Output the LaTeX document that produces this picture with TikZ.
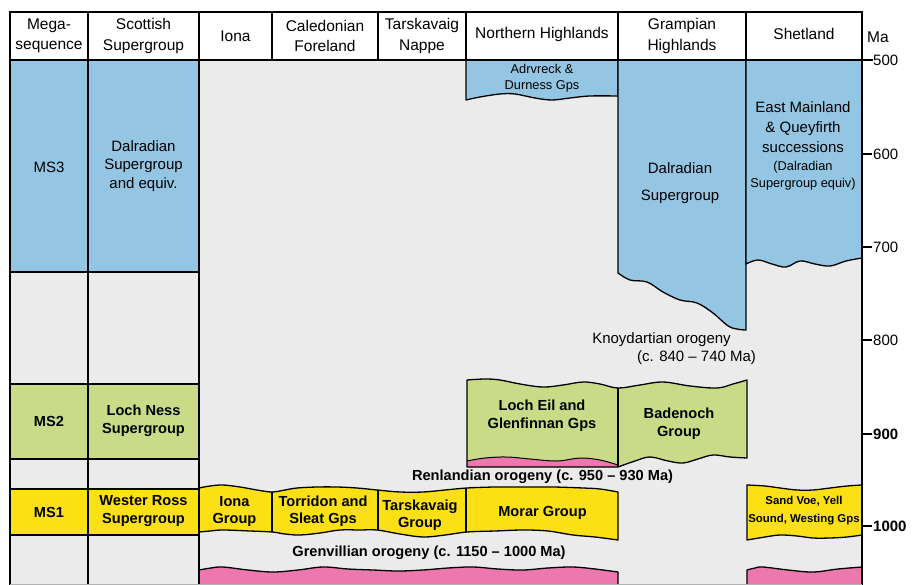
\documentclass[tikz,border=0pt]{standalone}
\usepackage{fontspec}
\setmainfont{Liberation Sans}
\definecolor{blueb}{HTML}{94C5E2}
\definecolor{greyb}{HTML}{EBEBEB}
\definecolor{greenb}{HTML}{CADB88}
\definecolor{yellowb}{HTML}{FBE016}
\definecolor{pinkb}{HTML}{EC78AD}
\begin{document}
\begin{tikzpicture}[x=1pt,y=-1pt,
  frame/.style={line width=2.4pt, draw=black, line cap=rect},
  wavy/.style={line width=1.3pt, draw=black, line join=round},
  hdr/.style={inner sep=0pt, align=center, font=\fontsize{15.5}{20.5}\selectfont},
  txt/.style={inner sep=0pt, align=center, font=\fontsize{15}{18.5}\selectfont},
  btxt/.style={inner sep=0pt, align=center, font=\fontsize{14.6}{18}\selectfont\bfseries},
  stxt/.style={inner sep=0pt, align=center, font=\fontsize{12.8}{16.5}\selectfont},
  sbtxt/.style={inner sep=0pt, align=center, font=\fontsize{11.4}{18}\selectfont\bfseries},
  tick/.style={line width=2pt, draw=black},
  ticklab/.style={inner sep=0pt, anchor=west, font=\fontsize{15}{18}\selectfont}]
\useasboundingbox (0,0) rectangle (912,585);
\fill[white] (0,0) rectangle (912,585);

% background panels
\fill[greyb] (199,60) rectangle (862,585);
\fill[blueb] (10,60) rectangle (199,272);
\fill[greyb] (10,272) rectangle (199,384);
\fill[greenb] (10,384) rectangle (199,459);
\fill[greyb] (10,459) rectangle (199,489);
\fill[yellowb] (10,489) rectangle (199,535);
\fill[greyb] (10,535) rectangle (199,585);

% MS3 blue blocks
\filldraw[wavy, fill=blueb] (466,60) -- (466,100) -- plot[smooth, tension=0.6] coordinates {(466,100) (480,97) (500,94) (515,94) (535,98) (552,100) (570,98) (590,96) (618,96)} -- (618,60);
\filldraw[wavy, fill=blueb] (618,60) -- (618,273) -- plot[smooth, tension=0.6] coordinates {(618,273) (630,280) (647,282) (663,292) (680,300) (697,303) (713,313) (730,327) (746,330)} -- (746,60);
\filldraw[wavy, fill=blueb] (746,60) -- (746,264) -- plot[smooth, tension=0.6] coordinates {(746,264) (758,260) (772,264) (786,267) (800,261) (815,264) (830,266) (846,261) (862,258)} -- (862,60);

% MS2 green blocks
\fill[greenb] (467,467) -- (467,380) -- plot[smooth, tension=0.6] coordinates {(467,380) (485,379) (500,380) (520,384) (543,387) (563,385) (583,382) (600,384) (618,388) (640,385) (663,382) (690,386) (717,388) (733,384) (747,380)} -- (747,458) -- plot[smooth, tension=0.6] coordinates {(747,458) (730,457) (713,455) (698,459) (683,463) (668,461) (650,457) (635,461) (618,467)} -- cycle;
\fill[pinkb] (467,467) -- (467,461) -- plot[smooth, tension=0.6] coordinates {(467,461) (485,458) (507,457) (530,459) (557,461) (580,458) (600,460) (618,465)} -- (618,467) -- cycle;
\draw[wavy] (467,467) -- (467,380) -- plot[smooth, tension=0.6] coordinates {(467,380) (485,379) (500,380) (520,384) (543,387) (563,385) (583,382) (600,384) (618,388) (640,385) (663,382) (690,386) (717,388) (733,384) (747,380)} -- (747,458) -- plot[smooth, tension=0.6] coordinates {(747,458) (730,457) (713,455) (698,459) (683,463) (668,461) (650,457) (635,461) (618,467)} -- cycle;
\draw[wavy, line width=1pt] plot[smooth, tension=0.6] coordinates {(467,461) (485,458) (507,457) (530,459) (557,461) (580,458) (600,460) (618,465)};
\draw[wavy] (618,388) -- (618,467);

% MS1 yellow blocks
\filldraw[wavy, fill=yellowb] (199,532) -- (199,488) -- plot[smooth, tension=0.6] coordinates {(199,488) (210,486) (223,485) (240,487) (257,490) (272,492) (285,490) (297,488) (317,487) (337,487) (357,488) (377,490) (400,492) (423,492) (445,490) (467,488) (495,487) (523,487) (553,487) (583,488) (600,489) (618,492)} -- (618,540) -- plot[smooth, tension=0.6] coordinates {(618,540) (595,537) (573,535) (548,531) (523,530) (495,531) (467,532) (445,535) (423,537) (400,534) (377,530) (360,530) (340,530) (320,533) (300,535) (285,534) (272,532) (250,531) (223,530) (210,531) (199,532)} -- cycle;
\draw[wavy] (272,492) -- (272,532);
\draw[wavy] (378,490) -- (378,530);
\draw[wavy] (466,488) -- (466,532);
\filldraw[wavy, fill=yellowb] (747,540) -- (747,485) -- plot[smooth, tension=0.6] coordinates {(747,485) (765,486) (780,488) (797,490) (813,490) (830,488) (847,486) (862,485)} -- (862,535) -- plot[smooth, tension=0.6] coordinates {(862,535) (847,537) (830,538) (813,538) (797,536) (780,535) (765,537) (747,540)} -- cycle;

% pink basement
\filldraw[wavy, fill=pinkb] (199,586) -- (199,570) -- plot[smooth, tension=0.6] coordinates {(199,570) (211,568) (223,567) (248,570) (273,572) (298,570) (323,567) (348,569) (373,570) (398,571) (423,570) (448,568) (473,567) (498,569) (523,570) (548,568) (573,567) (595,569) (618,572)} -- (618,586);
\filldraw[wavy, fill=pinkb] (747,586) -- (747,570) -- plot[smooth, tension=0.6] coordinates {(747,570) (755,568) (763,567) (788,570) (813,572) (838,569) (862,567)} -- (862,586);

% frame
\draw[frame] (10,12) -- (862,12);
\draw[frame] (10,60) -- (872,60);
\foreach \xx in {272,378,466,618,746} \draw[frame] (\xx,12) -- (\xx,60);
\foreach \xx in {10,88,199} \draw[frame] (\xx,12) -- (\xx,586);
\draw[frame] (862,12) -- (862,586);
\foreach \yy in {272,384,459,489,535} \draw[frame] (10,\yy) -- (199,\yy);
\draw[gray!60, line width=0.8pt] (10,584.6) -- (862,584.6);

% axis
\foreach \yy in {154,247,340,434,526} \draw[tick] (862,\yy) -- (872,\yy);
\node[hdr, anchor=west] (ma) at (867,37) {Ma};
\node[ticklab] (t500) at (873,60) {500};
\node[ticklab] (t600) at (873,154) {600};
\node[ticklab] (t700) at (873,247) {700};
\node[ticklab] (t800) at (873,340) {800};
\node[ticklab, font=\fontsize{15}{18}\selectfont\bfseries] (t900) at (873,434) {900};
\node[ticklab, font=\fontsize{15}{18}\selectfont\bfseries] (t1000) at (873,526) {1000};

% header
\node[hdr] (h1) at (49,36) {Mega-\\sequence};
\node[hdr] (h2) at (143.5,36) {Scottish\\Supergroup};
\node[hdr] (h3) at (235.5,36) {Iona};
\node[hdr] (h4) at (325,36) {Caledonian\\Foreland};
\node[hdr] (h5) at (422,36) {Tarskavaig\\Nappe};
\node[hdr] (h6) at (542,34) {Northern Highlands};
\node[hdr] (h7) at (682,36) {Grampian\\Highlands};
\node[hdr] (h8) at (804,34) {Shetland};

% left columns
\node[txt] (ms3) at (49,167) {MS3};
\node[txt] (dal) at (143.5,166) {Dalradian\\Supergroup\\and equiv.};
\node[btxt] (ms2) at (49,421) {MS2};
\node[btxt] (lns) at (143.5,421) {Loch Ness\\Supergroup};
\node[btxt] (ms1) at (49,512) {MS1};
\node[btxt] (wrs) at (143.5,511) {Wester Ross\\Supergroup};

% MS3 texts
\node[stxt] (adr) at (542,78) {Adrvreck \&\\Durness Gps};
\node[txt] (gdal1) at (680,168) {Dalradian};
\node[txt] (gdal2) at (680,197) {Supergroup};
\node[txt, font=\fontsize{15}{20.2}\selectfont] (east) at (803,127) {East Mainland\\\& Queyfirth\\successions};
\node[stxt] (east2) at (803,175.5) {(Dalradian\\Supergroup equiv)};
\node[txt] (kn1) at (661.5,340) {Knoydartian orogeny};
\node[txt] (kn2) at (696.5,358) {(c. 840 -- 740 Ma)};

% MS2 texts
\node[btxt] (leil) at (542,416) {Loch Eil and\\Glenfinnan Gps};
\node[btxt] (bad) at (679,423.5) {Badenoch\\Group};
\node[btxt] (ren) at (542.5,477) {Renlandian orogeny (c. 950 -- 930 Ma)};

% MS1 texts
\node[btxt, font=\fontsize{14.6}{17}\selectfont\bfseries] (iona) at (234.5,511.5) {Iona\\Group};
\node[btxt, font=\fontsize{14.6}{17}\selectfont\bfseries] (torr) at (323,511.5) {Torridon and\\Sleat Gps};
\node[btxt, font=\fontsize{14.6}{17}\selectfont\bfseries] (tars) at (420,515.5) {Tarskavaig\\Group};
\node[btxt] (morar) at (542.5,513) {Morar Group};
\node[sbtxt] (sand) at (804,511) {Sand Voe, Yell\\Sound, Westing Gps};
\node[btxt] (gren) at (429,553) {Grenvillian orogeny (c. 1150 -- 1000 Ma)};
\end{tikzpicture}
\end{document}
